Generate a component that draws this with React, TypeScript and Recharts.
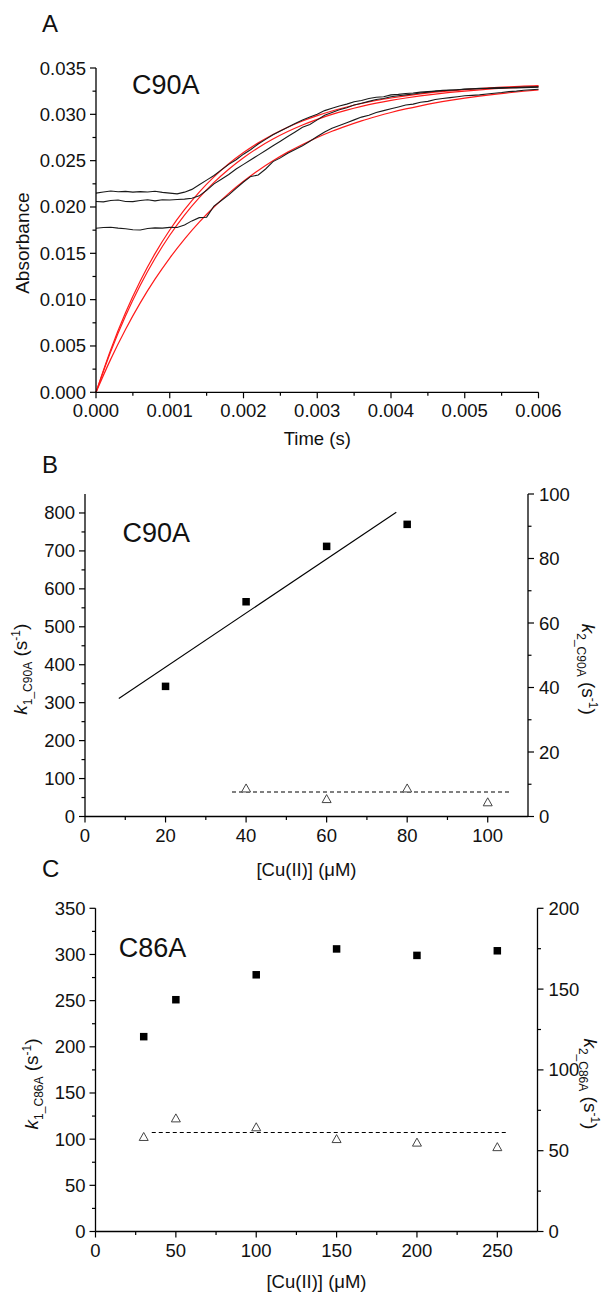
import React from "react";
import { ComposedChart, LineChart, Line, Scatter, XAxis, YAxis } from "recharts";

const FONT = 'Arial, "Liberation Sans", Helvetica, sans-serif';
const INK = "#111";

// ---------- Panel A: absorbance traces + exponential fits ----------
const fitTime = [
  0, 0.0002, 0.0004, 0.0006, 0.0008, 0.001, 0.0012, 0.0014, 0.0016, 0.0018, 0.002,
  0.0022, 0.0024, 0.0026, 0.0028, 0.003, 0.0032, 0.0034, 0.0036, 0.0038, 0.004,
  0.0042, 0.0044, 0.0046, 0.0048, 0.005, 0.0052, 0.0054, 0.0056, 0.0058, 0.006,
];
const fit1 = [
  0, 0.00461, 0.00858, 0.01201, 0.01497, 0.01752, 0.01971, 0.02161, 0.02325, 0.02466, 0.02587,
  0.02692, 0.02783, 0.02861, 0.02928, 0.02986, 0.03036, 0.03079, 0.03117, 0.03149, 0.03176,
  0.032, 0.03221, 0.03239, 0.03254, 0.03267, 0.03279, 0.03288, 0.03297, 0.03304, 0.0331,
];
const fit2 = [
  0, 0.00441, 0.00823, 0.01155, 0.01444, 0.01695, 0.01913, 0.02101, 0.02266, 0.02408, 0.02532,
  0.0264, 0.02733, 0.02814, 0.02885, 0.02946, 0.02999, 0.03045, 0.03085, 0.0312, 0.0315,
  0.03176, 0.03199, 0.03219, 0.03236, 0.03251, 0.03264, 0.03276, 0.03285, 0.03294, 0.03301,
];
const fit3 = [
  0, 0.00358, 0.00678, 0.00965, 0.01221, 0.01449, 0.01654, 0.01837, 0.02, 0.02147, 0.02277,
  0.02394, 0.02498, 0.02592, 0.02675, 0.0275, 0.02817, 0.02876, 0.0293, 0.02977, 0.0302,
  0.03058, 0.03092, 0.03123, 0.0315, 0.03174, 0.03196, 0.03216, 0.03233, 0.03249, 0.03263,
];

const traceTime = [
  0, 0.0001, 0.0002, 0.0003, 0.0004, 0.0005, 0.0006, 0.0007, 0.0008, 0.0009,
  0.001, 0.0011, 0.0012, 0.0013, 0.0014, 0.0015, 0.0016, 0.0017, 0.0018, 0.0019,
  0.002, 0.0021, 0.0022, 0.0023, 0.0024, 0.0025, 0.0026, 0.0027, 0.0028, 0.0029,
  0.003, 0.0031, 0.0032, 0.0033, 0.0034, 0.0035, 0.0036, 0.0037, 0.0038, 0.0039,
  0.004, 0.0041, 0.0042, 0.0043, 0.0044, 0.0045, 0.0046, 0.0047, 0.0048, 0.0049,
  0.005, 0.0051, 0.0052, 0.0053, 0.0054, 0.0055, 0.0056, 0.0057, 0.0058, 0.0059,
  0.006,
];
const trace1 = [
  0.0215, 0.02162, 0.02172, 0.02165, 0.02168, 0.0216, 0.02166, 0.02162, 0.0217, 0.02158,
  0.0215, 0.02142, 0.0216, 0.0219, 0.0224, 0.0229, 0.0234, 0.024, 0.0246, 0.0251,
  0.0257, 0.0262, 0.0268, 0.0273, 0.0278, 0.0282, 0.0286, 0.029, 0.0294, 0.0297,
  0.03, 0.0304, 0.03065, 0.0309, 0.0311, 0.03135, 0.0315, 0.0317, 0.03185, 0.0319,
  0.0321, 0.03215, 0.03225, 0.0323, 0.0324, 0.03245, 0.0325, 0.03258, 0.03262, 0.03266,
  0.03272, 0.03276, 0.0328, 0.03282, 0.03286, 0.03288, 0.0329, 0.03292, 0.03295, 0.03296,
  0.03298,
];
const trace2 = [
  0.0206, 0.02055, 0.0207, 0.02075, 0.0206, 0.02058, 0.0207, 0.02078, 0.02066, 0.02078,
  0.02075, 0.0208, 0.02085, 0.02095, 0.0212, 0.0218, 0.0225, 0.023, 0.0235, 0.0241,
  0.0246, 0.0251, 0.0256, 0.0261, 0.0266, 0.0271, 0.0276, 0.0281, 0.0286, 0.0289,
  0.0294, 0.0299, 0.0302, 0.0305, 0.0307, 0.031, 0.0312, 0.0314, 0.0316, 0.0317,
  0.0319, 0.032, 0.0321, 0.0322, 0.0323, 0.0324, 0.0325, 0.03255, 0.0326, 0.03265,
  0.0327, 0.03273, 0.03276, 0.03278, 0.0328, 0.03282, 0.03284, 0.03286, 0.03288, 0.0329,
  0.03292,
];
const trace3 = [
  0.0177, 0.01778, 0.01782, 0.01772, 0.01765, 0.01755, 0.01752, 0.01768, 0.01775, 0.01772,
  0.0178, 0.01778, 0.01805, 0.0185, 0.01885, 0.0189, 0.0201, 0.0207, 0.0213, 0.022,
  0.0227, 0.0233, 0.02345, 0.0241, 0.0249, 0.0253, 0.0258, 0.0262, 0.0266, 0.0271,
  0.0276, 0.0281, 0.0285, 0.0288, 0.0291, 0.0294, 0.0297, 0.0299, 0.0302, 0.0304,
  0.0306, 0.0308, 0.031, 0.0311, 0.0313, 0.0314, 0.0316, 0.0317, 0.0318, 0.0319,
  0.032, 0.03205, 0.0321, 0.0322, 0.03228, 0.03235, 0.03245, 0.0325, 0.0326, 0.03265,
  0.0327,
];
const aTimeMajor = [0, 0.001, 0.002, 0.003, 0.004, 0.005, 0.006];
const aTimeMinor = [0.0005, 0.0015, 0.0025, 0.0035, 0.0045, 0.0055];
const aAbsMajor = [0, 0.005, 0.01, 0.015, 0.02, 0.025, 0.03, 0.035];
const aAbsMinor = [0.0025, 0.0075, 0.0125, 0.0175, 0.0225, 0.0275, 0.0325];

// ---------- Panel B: C90A rate constants ----------
const bConc = [20, 40, 60, 80];
const bK1 = [343, 566, 712, 770];
const bFitConc = [8.4, 77.3];
const bFitK1 = [311, 802];
const bConc2 = [40, 60, 80, 100];
const bK2 = [8.7, 5.4, 8.7, 4.4];
const bMeanConc = [36.5, 105.5];
const bMeanK2 = [7.6, 7.6];
const bXMajor = [0, 20, 40, 60, 80, 100];
const bXMinor = [10, 30, 50, 70, 90];
const bLeftMajor = [0, 100, 200, 300, 400, 500, 600, 700, 800];
const bLeftMinor = [50, 150, 250, 350, 450, 550, 650, 750];
const bRightMajor = [0, 20, 40, 60, 80, 100];
const bRightMinor = [10, 30, 50, 70, 90];

// ---------- Panel C: C86A rate constants ----------
const cConc = [30, 50, 100, 150, 200, 250];
const cK1 = [211, 251, 278, 306, 299, 304];
const cK2 = [58.5, 70, 64.5, 57.2, 55, 52.2];
const cMeanConc = [35, 257];
const cMeanK2 = [61.3, 61.3];
const cXMajor = [0, 50, 100, 150, 200, 250];
const cXMinor = [25, 75, 125, 175, 225];
const cLeftMajor = [0, 50, 100, 150, 200, 250, 300, 350];
const cLeftMinor = [25, 75, 125, 175, 225, 275, 325];
const cRightMajor = [0, 50, 100, 150, 200];
const cRightMinor = [25, 75, 125, 175];

const toXY = (xs: number[], ys: number[]) => xs.map((x, i) => ({ x, y: ys[i] }));
const fmt3 = (v: number) => v.toFixed(3);
const fmt0 = (v: number) => String(Math.round(v));
const AXIS = { stroke: "#000", strokeWidth: 1.3 };

type Side = "left" | "right" | "bottom" | "top";
const OUT: Record<Side, [number, number]> = { left: [-1, 0], right: [1, 0], bottom: [0, 1], top: [0, -1] };

// draws major/minor tick marks and labels ourselves (tickSize=0 puts x,y on the axis line)
function axisTicks(side: Side, majors: number[], fmt?: (v: number) => string, inward = false) {
  const [dx, dy] = OUT[side];
  const s = inward ? -1 : 1;
  return (props: any) => {
    const { x, y, payload } = props;
    const v = Number(payload.value);
    const isMajor = majors.some((m) => Math.abs(m - v) < 1e-9);
    const len = isMajor ? (inward ? 5 : 6) : inward ? 3 : 3.5;
    let lx = x, ly = y, anchor: "start" | "middle" | "end" = "middle";
    if (side === "left") { lx = x - 10; ly = y + 6.5; anchor = "end"; }
    if (side === "right") { lx = x + 11; ly = y + 6.5; anchor = "start"; }
    if (side === "bottom") { ly = y + 25; }
    return (
      <g>
        <line x1={x} y1={y} x2={x + dx * s * len} y2={y + dy * s * len} stroke="#000" strokeWidth={1.2} />
        {isMajor && fmt ? (
          <text x={lx} y={ly} textAnchor={anchor} fontFamily={FONT} fontSize={18.5} fill={INK}>
            {fmt(v)}
          </text>
        ) : null}
      </g>
    );
  };
}

const bottomTitle = (text: string, dy: number) => (p: any) => {
  const vb = p.viewBox;
  if (!vb) return null;
  return (
    <text x={vb.x + vb.width / 2} y={vb.y + dy} textAnchor="middle" fontFamily={FONT} fontSize={18.5} fill={INK}>
      {text}
    </text>
  );
};

// k with subscript and (s^-1), rotated
function KTitle({ x, y, rotate, sub }: { x: number; y: number; rotate: number; sub: string }) {
  return (
    <text transform={`translate(${x},${y}) rotate(${rotate})`} textAnchor="middle" fontFamily={FONT} fontSize={19} fill={INK}>
      <tspan fontStyle="italic">k</tspan>
      <tspan fontSize={12} dy={5}>{sub}</tspan>
      <tspan dy={-5}> (s</tspan>
      <tspan fontSize={12} dy={-7}>-1</tspan>
      <tspan dy={7}>)</tspan>
    </text>
  );
}

const leftK = (sub: string, dx: number) => (p: any) => {
  const vb = p.viewBox;
  if (!vb) return null;
  return <KTitle x={vb.x + vb.width + dx} y={vb.y + vb.height / 2 + 14} rotate={-90} sub={sub} />;
};
const rightK = (sub: string, dx: number) => (p: any) => {
  const vb = p.viewBox;
  if (!vb) return null;
  return <KTitle x={vb.x + dx} y={vb.y + vb.height / 2 + 14} rotate={90} sub={sub} />;
};

const Square = (p: any) => <rect x={p.cx - 3.75} y={p.cy - 3.75} width={7.5} height={7.5} fill="#000" />;
const Triangle = (p: any) => (
  <path
    d={`M${p.cx},${p.cy - 4.5}L${p.cx + 4.5},${p.cy + 3.5}L${p.cx - 4.5},${p.cy + 3.5}Z`}
    fill="#fff"
    stroke="#444"
    strokeWidth={1}
  />
);

function PanelA() {
  const fits = fitTime.map((t, i) => ({ t, f1: fit1[i], f2: fit2[i], f3: fit3[i] }));
  const traces = traceTime.map((t, i) => ({ t, a1: trace1[i], a2: trace2[i], a3: trace3[i] }));
  return (
    <LineChart width={601} height={470} margin={{ top: 68, right: 62.5, bottom: 27.7, left: 0 }}>
      <XAxis
        type="number"
        dataKey="t"
        domain={[0, 0.006]}
        ticks={[...aTimeMajor, ...aTimeMinor]}
        interval={0}
        tickSize={0}
        tickMargin={0}
        tickLine={false}
        axisLine={AXIS}
        tick={axisTicks("bottom", aTimeMajor, fmt3)}
        height={50}
        label={{ content: bottomTitle("Time (s)", 53) }}
      />
      <YAxis
        type="number"
        domain={[0, 0.035]}
        ticks={[...aAbsMajor, ...aAbsMinor]}
        interval={0}
        tickSize={0}
        tickMargin={0}
        tickLine={false}
        axisLine={AXIS}
        tick={axisTicks("left", aAbsMajor, fmt3)}
        width={96}
        label={{
          content: (p: any) =>
            p.viewBox ? (
              <text
                transform={`translate(${p.viewBox.x + p.viewBox.width - 67},${p.viewBox.y + p.viewBox.height / 2 + 13}) rotate(-90)`}
                textAnchor="middle"
                fontFamily={FONT}
                fontSize={19}
                fill={INK}
              >
                Absorbance
              </text>
            ) : null,
        }}
      />
      <Line data={fits} dataKey="f1" type="monotone" stroke="#ff1a1a" strokeWidth={1.2} dot={false} isAnimationActive={false} />
      <Line data={fits} dataKey="f2" type="monotone" stroke="#ff1a1a" strokeWidth={1.2} dot={false} isAnimationActive={false} />
      <Line data={fits} dataKey="f3" type="monotone" stroke="#ff1a1a" strokeWidth={1.2} dot={false} isAnimationActive={false} />
      <Line data={traces} dataKey="a1" type="linear" stroke="#1a1a1a" strokeWidth={1.1} dot={false} isAnimationActive={false} />
      <Line data={traces} dataKey="a2" type="linear" stroke="#1a1a1a" strokeWidth={1.1} dot={false} isAnimationActive={false} />
      <Line data={traces} dataKey="a3" type="linear" stroke="#1a1a1a" strokeWidth={1.1} dot={false} isAnimationActive={false} />
    </LineChart>
  );
}

interface RatePanelProps {
  height: number;
  margin: { top: number; right: number; bottom: number; left: number };
  leftWidth: number;
  rightWidth: number;
  xDomain: [number, number];
  xMajor: number[];
  xMinor: number[];
  leftDomain: [number, number];
  leftMajor: number[];
  leftMinor: number[];
  rightDomain: [number, number];
  rightMajor: number[];
  rightMinor: number[];
  k1: { x: number; y: number }[];
  k2: { x: number; y: number }[];
  fit?: { x: number; y: number }[];
  mean: { x: number; y: number }[];
  sub1: string;
  sub2: string;
  xTitleDy: number;
  rightTitleDx: number;
}

function RatePanel(p: RatePanelProps) {
  return (
    <ComposedChart width={601} height={p.height} margin={p.margin}>
      <XAxis
        xAxisId="b"
        type="number"
        dataKey="x"
        domain={p.xDomain}
        ticks={[...p.xMajor, ...p.xMinor]}
        interval={0}
        tickSize={0}
        tickMargin={0}
        tickLine={false}
        axisLine={AXIS}
        tick={axisTicks("bottom", p.xMajor, fmt0)}
        height={50}
        label={{ content: bottomTitle("[Cu(II)] (\u03bcM)", p.xTitleDy) }}
      />
      <XAxis
        xAxisId="t"
        orientation="top"
        type="number"
        dataKey="x"
        domain={p.xDomain}
        ticks={[...p.xMajor, ...p.xMinor]}
        interval={0}
        tickSize={0}
        tickMargin={0}
        tickLine={false}
        axisLine={AXIS}
        tick={axisTicks("top", p.xMajor, undefined, true)}
        height={0}
      />
      <YAxis
        yAxisId="l"
        type="number"
        dataKey="y"
        domain={p.leftDomain}
        ticks={[...p.leftMajor, ...p.leftMinor]}
        interval={0}
        tickSize={0}
        tickMargin={0}
        tickLine={false}
        axisLine={AXIS}
        tick={axisTicks("left", p.leftMajor, fmt0)}
        width={p.leftWidth}
        label={{ content: leftK(p.sub1, -58) }}
      />
      <YAxis
        yAxisId="r"
        orientation="right"
        type="number"
        dataKey="y"
        domain={p.rightDomain}
        ticks={[...p.rightMajor, ...p.rightMinor]}
        interval={0}
        tickSize={0}
        tickMargin={0}
        tickLine={false}
        axisLine={AXIS}
        tick={axisTicks("right", p.rightMajor, fmt0)}
        width={p.rightWidth}
        label={{ content: rightK(p.sub2, p.rightTitleDx) }}
      />
      {p.fit ? (
        <Line xAxisId="b" yAxisId="l" data={p.fit} dataKey="y" type="linear" stroke="#000" strokeWidth={1.1} dot={false} isAnimationActive={false} />
      ) : null}
      <Line
        xAxisId="b"
        yAxisId="r"
        data={p.mean}
        dataKey="y"
        type="linear"
        stroke="#000"
        strokeWidth={1.1}
        strokeDasharray="4 3"
        dot={false}
        isAnimationActive={false}
      />
      <Scatter xAxisId="b" yAxisId="l" data={p.k1} shape={Square} isAnimationActive={false} />
      <Scatter xAxisId="b" yAxisId="r" data={p.k2} shape={Triangle} isAnimationActive={false} />
    </ComposedChart>
  );
}

export default function App() {
  return (
    <div style={{ position: "absolute", left: 0, top: 0, width: 601, height: 1296, background: "#fff", overflow: "hidden" }}>
      <div style={{ position: "absolute", left: 0, top: 0 }}>
        <PanelA />
      </div>
      <div style={{ position: "absolute", left: 0, top: 440 }}>
        <RatePanel
          height={460}
          margin={{ top: 54, right: 0, bottom: 33.5, left: 0 }}
          leftWidth={85}
          rightWidth={73}
          xDomain={[0, 110]}
          xMajor={bXMajor}
          xMinor={bXMinor}
          leftDomain={[0, 850]}
          leftMajor={bLeftMajor}
          leftMinor={bLeftMinor}
          rightDomain={[0, 100]}
          rightMajor={bRightMajor}
          rightMinor={bRightMinor}
          k1={toXY(bConc, bK1)}
          k2={toXY(bConc2, bK2)}
          fit={toXY(bFitConc, bFitK1)}
          mean={toXY(bMeanConc, bMeanK2)}
          sub1="1_C90A"
          sub2="2_C90A"
          xTitleDy={59}
          rightTitleDx={54}
        />
      </div>
      <div style={{ position: "absolute", left: 0, top: 880 }}>
        <RatePanel
          height={416}
          margin={{ top: 28.3, right: 0, bottom: 14.5, left: 0 }}
          leftWidth={95.5}
          rightWidth={63.5}
          xDomain={[0, 275]}
          xMajor={cXMajor}
          xMinor={cXMinor}
          leftDomain={[0, 350]}
          leftMajor={cLeftMajor}
          leftMinor={cLeftMinor}
          rightDomain={[0, 200]}
          rightMajor={cRightMajor}
          rightMinor={cRightMinor}
          k1={toXY(cConc, cK1)}
          k2={toXY(cConc, cK2)}
          mean={toXY(cMeanConc, cMeanK2)}
          sub1="1_C86A"
          sub2="2_C86A"
          xTitleDy={56}
          rightTitleDx={46}
        />
      </div>
      <svg width={601} height={1296} style={{ position: "absolute", left: 0, top: 0, pointerEvents: "none" }}>
        <g fontFamily={FONT} fill={INK}>
          <text x={42} y={31.7} fontSize={24}>A</text>
          <text x={132} y={94} fontSize={27}>C90A</text>
          <text x={42} y={473.3} fontSize={24}>B</text>
          <text x={122.6} y={541.7} fontSize={27}>C90A</text>
          <text x={42} y={876.7} fontSize={24}>C</text>
          <text x={118.8} y={956.7} fontSize={27}>C86A</text>
        </g>
      </svg>
    </div>
  );
}
